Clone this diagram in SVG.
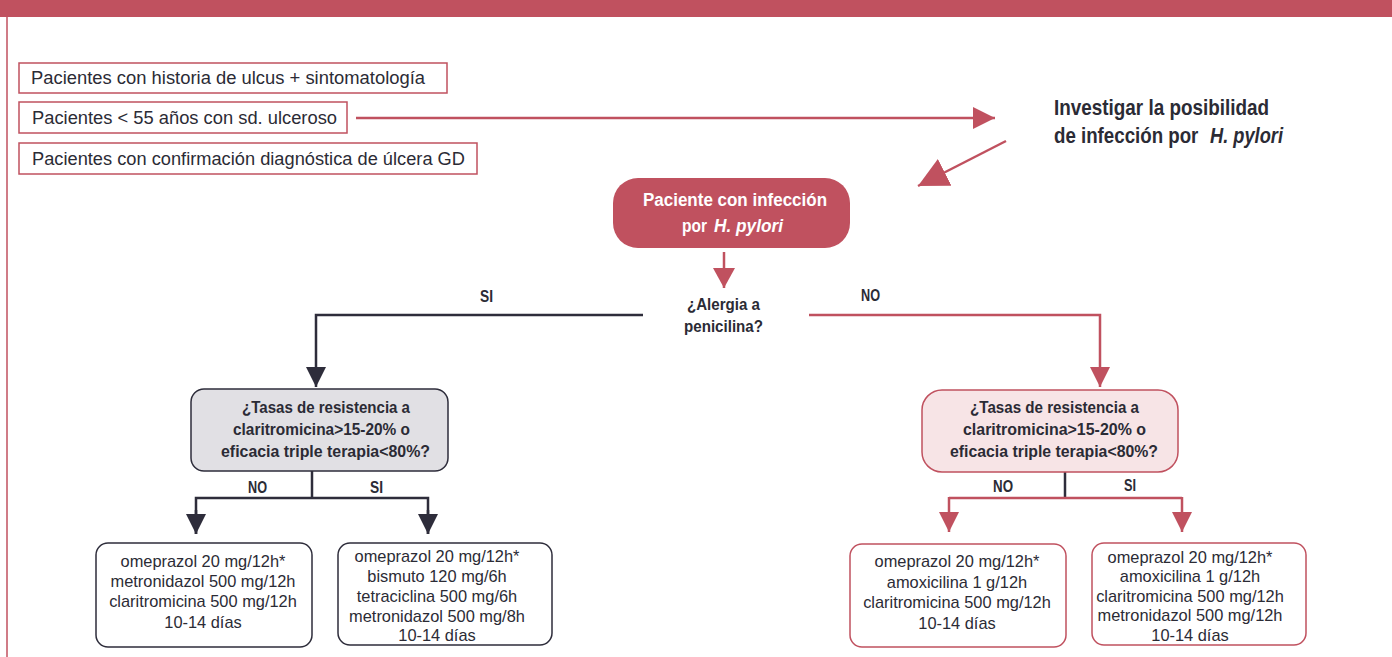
<svg xmlns="http://www.w3.org/2000/svg" width="1392" height="657" viewBox="0 0 1392 657">
<style>
.reg{font-family:"Liberation Sans",Arial,sans-serif;font-size:17.5px;fill:#2b2b35}
.rx{font-family:"Liberation Sans",Arial,sans-serif;font-size:16.4px;fill:#2b2b35;text-anchor:middle}
.b{font-family:"Liberation Sans",Arial,sans-serif;font-weight:bold;font-size:17px;fill:#2b2b35}
.bw{font-family:"Liberation Sans",Arial,sans-serif;font-weight:bold;font-size:17.5px;fill:#ffffff}
.bq{font-family:"Liberation Sans",Arial,sans-serif;font-weight:bold;font-size:16.5px;fill:#2b2b35}
.big{font-family:"Liberation Sans",Arial,sans-serif;font-weight:bold;font-size:22px;fill:#2b2b35}
.it{font-style:italic}
.rbox{fill:#ffffff;stroke:#c0515f;stroke-width:1.5}
.dbox{fill:#ffffff;stroke:#2e2d3b;stroke-width:1.5}
.red{fill:none;stroke:#c0515f;stroke-width:2.5}
.dark{fill:none;stroke:#2e2d3b;stroke-width:2.5}
</style>
<defs>
<marker id="hr" markerUnits="userSpaceOnUse" markerWidth="20" markerHeight="20" refX="20" refY="10" orient="auto"><path d="M0,0 L20,10 L0,20 z" fill="#c0515f"/></marker>
<marker id="hd" markerUnits="userSpaceOnUse" markerWidth="20" markerHeight="20" refX="20" refY="10" orient="auto"><path d="M0,0 L20,10 L0,20 z" fill="#2e2d3b"/></marker>
<marker id="hbig" markerUnits="userSpaceOnUse" markerWidth="22" markerHeight="22" refX="22" refY="11" orient="auto"><path d="M0,0 L22,11 L0,22 z" fill="#c0515f"/></marker>
<marker id="hdiag" markerUnits="userSpaceOnUse" markerWidth="30" markerHeight="30" refX="30" refY="15" orient="auto"><path d="M0,0 L30,15 L0,30 z" fill="#c0515f"/></marker>
<marker id="hmid" markerUnits="userSpaceOnUse" markerWidth="22" markerHeight="22" refX="20" refY="11" orient="auto"><path d="M0,0 L20,11 L0,22 z" fill="#c0515f"/></marker>
</defs>
<rect x="0" y="0" width="1392" height="657" fill="#ffffff"/>
<g id="frame">
<rect x="0" y="0" width="1392" height="17" fill="#c0515f"/>
<line x1="7" y1="17" x2="7" y2="657" stroke="#c0515f" stroke-width="1.5"/>
</g>
<g id="connectors">
<line class="red" x1="356" y1="118" x2="995" y2="118" marker-end="url(#hbig)"/>
<line class="red" x1="1006" y1="141" x2="918" y2="186" marker-end="url(#hdiag)"/>
<line class="red" x1="724" y1="252" x2="724" y2="288" marker-end="url(#hmid)"/>
<polyline class="dark" points="643,315 316,315 316,387" marker-end="url(#hd)"/>
<polyline class="red" points="809,315 1100,315 1100,387" marker-end="url(#hr)"/>
<line class="dark" x1="312" y1="471" x2="312" y2="498"/>
<polyline class="dark" points="196,534 196,498 428,498 428,534"/>
<line class="dark" x1="196" y1="510" x2="196" y2="534" marker-end="url(#hd)"/>
<line class="dark" x1="428" y1="510" x2="428" y2="534" marker-end="url(#hd)"/>
<line class="dark" x1="1065" y1="472" x2="1065" y2="498"/>
<polyline class="red" points="949,498 1182,498"/>
<line class="red" x1="949" y1="497" x2="949" y2="532" marker-end="url(#hr)"/>
<line class="red" x1="1182" y1="497" x2="1182" y2="532" marker-end="url(#hr)"/>
<text class="b" x="480" y="302" textLength="13" lengthAdjust="spacingAndGlyphs">SI</text>
<text class="b" x="861" y="301" textLength="19" lengthAdjust="spacingAndGlyphs">NO</text>
<text class="b" x="248" y="493" textLength="19" lengthAdjust="spacingAndGlyphs">NO</text>
<text class="b" x="370" y="493" textLength="13" lengthAdjust="spacingAndGlyphs">SI</text>
<text class="b" x="993" y="492" textLength="20" lengthAdjust="spacingAndGlyphs">NO</text>
<text class="b" x="1124" y="491" textLength="12" lengthAdjust="spacingAndGlyphs">SI</text>
</g>
<g id="box1">
<rect class="rbox" x="19" y="63" width="428" height="30"/>
<text class="reg" x="31" y="84" textLength="394" lengthAdjust="spacingAndGlyphs">Pacientes con historia de ulcus + sintomatología</text>
</g>
<g id="box2">
<rect class="rbox" x="19" y="102" width="328" height="31"/>
<text class="reg" x="32" y="124" textLength="305" lengthAdjust="spacingAndGlyphs">Pacientes &lt; 55 años con sd. ulceroso</text>
</g>
<g id="box3">
<rect class="rbox" x="19" y="143" width="458" height="31"/>
<text class="reg" x="32" y="165" textLength="433" lengthAdjust="spacingAndGlyphs">Pacientes con confirmación diagnóstica de úlcera GD</text>
</g>
<g id="investigar">
<text class="big" x="1054" y="115" textLength="215" lengthAdjust="spacingAndGlyphs">Investigar la posibilidad</text>
<text class="big" transform="translate(1054,143) scale(0.85,1)">de infección por</text>
<text class="big it" transform="translate(1210,143) scale(0.83,1)">H. pylori</text>
</g>
<g id="paciente">
<rect x="613" y="178" width="237" height="70" rx="25" fill="#c0515f"/>
<text class="bw" x="643" y="206" textLength="184" lengthAdjust="spacingAndGlyphs">Paciente con infección</text>
<text class="bw" x="682" y="232" textLength="25" lengthAdjust="spacingAndGlyphs">por</text>
<text class="bw it" x="714" y="232" textLength="69" lengthAdjust="spacingAndGlyphs">H. pylori</text>
</g>
<g id="alergia">
<text class="b" x="687" y="310" textLength="73" lengthAdjust="spacingAndGlyphs">¿Alergia a</text>
<text class="b" x="684" y="332" textLength="79" lengthAdjust="spacingAndGlyphs">penicilina?</text>
</g>
<g id="qgray">
<rect x="191" y="389" width="257" height="82" rx="13" fill="#e1e0e4" stroke="#2e2d3b" stroke-width="1.5"/>
<text class="bq" x="242" y="413" textLength="168" lengthAdjust="spacingAndGlyphs">¿Tasas de resistencia a</text>
<text class="bq" x="233" y="435" textLength="177" lengthAdjust="spacingAndGlyphs">claritromicina&gt;15-20% o</text>
<text class="bq" x="221" y="457" textLength="209" lengthAdjust="spacingAndGlyphs">eficacia triple terapia&lt;80%?</text>
</g>
<g id="qpink">
<rect x="922" y="390" width="256" height="82" rx="20" fill="#f7e4e6" stroke="#c0515f" stroke-width="1.5"/>
<text class="bq" x="970" y="413" textLength="169" lengthAdjust="spacingAndGlyphs">¿Tasas de resistencia a</text>
<text class="bq" x="963" y="435" textLength="183" lengthAdjust="spacingAndGlyphs">claritromicina&gt;15-20% o</text>
<text class="bq" x="950" y="457" textLength="208" lengthAdjust="spacingAndGlyphs">eficacia triple terapia&lt;80%?</text>
</g>
<g id="boxA">
<rect class="dbox" x="96" y="543" width="216" height="104" rx="12"/>
<text class="rx" x="203" y="567">omeprazol 20 mg/12h*</text>
<text class="rx" x="203" y="587">metronidazol 500 mg/12h</text>
<text class="rx" x="203" y="607">claritromicina 500 mg/12h</text>
<text class="rx" x="203" y="628">10-14 días</text>
</g>
<g id="boxB">
<rect class="dbox" x="338" y="543" width="214" height="102" rx="12"/>
<text class="rx" x="437" y="562">omeprazol 20 mg/12h*</text>
<text class="rx" x="437" y="582">bismuto 120 mg/6h</text>
<text class="rx" x="437" y="602">tetraciclina 500 mg/6h</text>
<text class="rx" x="437" y="622">metronidazol 500 mg/8h</text>
<text class="rx" x="437" y="641">10-14 días</text>
</g>
<g id="boxC">
<rect class="rbox" x="850" y="544" width="216" height="103" rx="12"/>
<text class="rx" x="957" y="567">omeprazol 20 mg/12h*</text>
<text class="rx" x="957" y="588">amoxicilina 1 g/12h</text>
<text class="rx" x="957" y="608">claritromicina 500 mg/12h</text>
<text class="rx" x="957" y="629">10-14 días</text>
</g>
<g id="boxD">
<rect class="rbox" x="1092" y="543" width="214" height="102" rx="12"/>
<text class="rx" x="1190" y="563">omeprazol 20 mg/12h*</text>
<text class="rx" x="1190" y="582">amoxicilina 1 g/12h</text>
<text class="rx" x="1190" y="602">claritromicina 500 mg/12h</text>
<text class="rx" x="1190" y="621">metronidazol 500 mg/12h</text>
<text class="rx" x="1190" y="641">10-14 días</text>
</g>
</svg>
